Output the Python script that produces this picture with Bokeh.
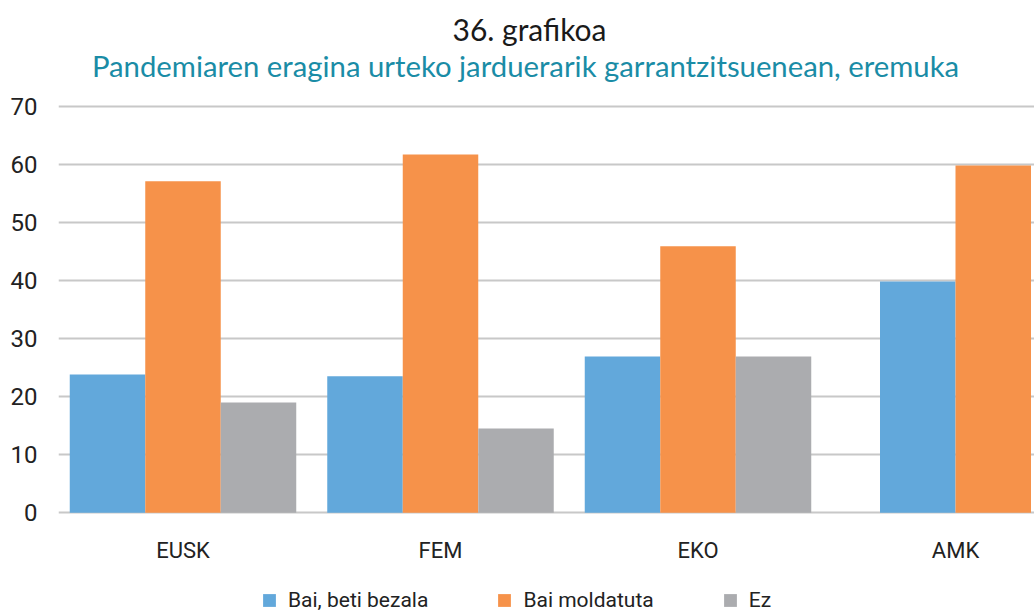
from bokeh.plotting import figure
from bokeh.models import Range1d, FixedTicker, Legend, LegendItem, ColumnDataSource
from bokeh.core.properties import value
from bokeh.embed import file_html
from bokeh.resources import INLINE

# ---- data ----
title_text = "36. grafikoa"
subtitle_text = "Pandemiaren eragina urteko jarduerarik garrantzitsuenean, eremuka"
categories = ["EUSK", "FEM", "EKO", "AMK"]
series_names = ["Bai, beti bezala", "Bai moldatuta", "Ez"]
bai_beti_bezala = [23.8, 23.5, 26.9, 39.8]
bai_moldatuta = [57.1, 61.7, 45.9, 59.8]
ez = [19.0, 14.5, 26.9, None]
y_ticks = [0, 10, 20, 30, 40, 50, 60, 70]

colors = ["#62A8DB", "#F6924A", "#ABACAF"]
series_values = [bai_beti_bezala, bai_moldatuta, ez]

LABEL_FONT = "Roboto"
TITLE_FONT = "Lato"
bar_w = 0.2932

# ---- layout helpers (canvas pixels -> data coords); frame fills the canvas height ----
W, H = 1034, 614
FRAME_L = 58
PX_PER_X = 257.5
X_START = -0.4835
X_END = X_START + (W - FRAME_L) / PX_PER_X
PX_PER_Y = 5.8086
Y_END = 70 + 105.7 / PX_PER_Y
Y_START = Y_END - H / PX_PER_Y


def dx(px):
    return X_START + (px - FRAME_L) / PX_PER_X


def dy(py):
    return Y_END - py / PX_PER_Y


p = figure(width=W, height=H, output_backend="svg", toolbar_location=None,
           title=None,
           x_range=Range1d(X_START, X_END), y_range=Range1d(Y_START, Y_END),
           min_border_left=FRAME_L, min_border_right=0, min_border_top=0, min_border_bottom=0)

# bars: within each category, the present series are centred on the category
xs = {k: [] for k in range(3)}
tops = {k: [] for k in range(3)}
for i, cat in enumerate(categories):
    present = [k for k in range(3) if series_values[k][i] is not None]
    n = len(present)
    for j, k in enumerate(present):
        xs[k].append(i + (j - (n - 1) / 2) * bar_w)
        tops[k].append(series_values[k][i])

items = []
for k in range(3):
    src = ColumnDataSource(dict(x=xs[k], top=tops[k]))
    r = p.vbar(x="x", top="top", bottom=0, width=bar_w, source=src,
               fill_color=colors[k], line_color=None)
    items.append(LegendItem(label=series_names[k], renderers=[r]))

# category labels under the groups
p.text(x=list(range(len(categories))), y=[dy(550)] * len(categories), text=categories,
       text_align="center", text_baseline="middle",
       text_font=value(LABEL_FONT), text_font_size="22px", text_color="#222222")

# titles
p.text(x=[dx(529)], y=[dy(28)], text=[title_text], text_align="center", text_baseline="middle",
       text_font=value(TITLE_FONT), text_font_size="30px", text_color="#1A1A1A")
p.text(x=[dx(525)], y=[dy(65)], text=[subtitle_text], text_align="center", text_baseline="middle",
       text_font=value(TITLE_FONT), text_font_size="29.3px", text_color="#1A8CA6")

p.outline_line_color = None
p.background_fill_color = "white"
p.border_fill_color = "white"
p.xgrid.visible = False
p.xaxis.visible = False
p.ygrid.grid_line_color = "#C8C8C8"
p.ygrid.grid_line_width = 2

p.yaxis.ticker = FixedTicker(ticks=y_ticks)
ax = p.yaxis[0]
ax.axis_line_color = None
ax.major_tick_line_color = None
ax.minor_tick_line_color = None
ax.major_tick_out = 0
ax.major_tick_in = 0
ax.minor_tick_out = 0
ax.major_label_text_font = LABEL_FONT
ax.major_label_text_color = "#222222"
ax.major_label_text_font_size = "24px"
ax.major_label_standoff = 21

legend = Legend(items=items, orientation="horizontal", location=(203, 2),
                border_line_color=None, background_fill_alpha=0,
                padding=0, margin=0, glyph_width=16, glyph_height=16,
                label_standoff=11, spacing=68,
                label_text_font=LABEL_FONT, label_text_font_size="21px",
                label_text_color="#222222")
p.add_layout(legend, "center")

open("out.html", "w").write(file_html(p, INLINE))
